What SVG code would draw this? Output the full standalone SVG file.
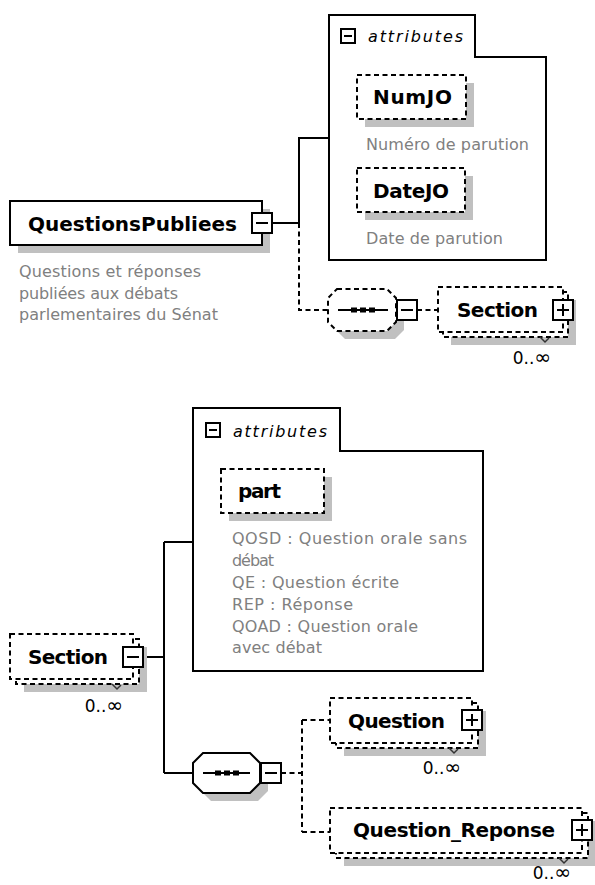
<svg xmlns="http://www.w3.org/2000/svg" width="595" height="885" viewBox="0 0 595 885">
<style>
.bg{fill:#fff}
.box{fill:#fff;stroke:#000;stroke-width:2}
.dbox{fill:#fff;stroke:#000;stroke-width:2;stroke-dasharray:5 3.5}
.sh{fill:#c0c0c0}
.ln{fill:none;stroke:#000;stroke-width:2}
.dln{fill:none;stroke:#000;stroke-width:2;stroke-dasharray:5 3.5}
.ic{fill:#fff;stroke:#000;stroke-width:2}
.icl{stroke:#000;stroke-width:2}
.tick{fill:none;stroke:#333;stroke-width:1.5}
.dot{fill:#000}
.name{font-family:"DejaVu Sans",Verdana,sans-serif;font-weight:bold;font-size:20px;fill:#000}
.desc{font-family:"DejaVu Sans",Verdana,sans-serif;font-size:16px;fill:#808080}
.attr{font-family:"DejaVu Sans",Verdana,sans-serif;font-style:italic;font-size:16px;fill:#000}
.occ{font-family:"DejaVu Sans",Verdana,sans-serif;font-size:17px;fill:#000;text-anchor:end}
.inf{font-size:20px}
</style>
<rect class="bg" x="0" y="0" width="595" height="885"/>

<g id="connectors">
  <path class="ln" d="M272,223 H299 M299,223 V138 H329"/>
  <path class="dln" d="M299,223 V310 H328"/>
  <path class="dln" d="M417,310 H438"/>
  <path class="ln" d="M143,657 H164 M164,542 V773 M164,542 H193 M164,773 H193"/>
  <path class="dln" d="M281,773 H302 M302,720 V832 M302,720 H330 M302,832 H330"/>
</g>

<g id="QuestionsPubliees">
  <rect class="sh" x="18" y="209" width="252" height="44"/>
  <rect class="box" x="10" y="201" width="252" height="44"/>
  <text class="name" x="28" y="230.5" textLength="209">QuestionsPubliees</text>
  <rect class="ic" x="252" y="213" width="20" height="20"/>
  <line class="icl" x1="256" y1="223" x2="268" y2="223"/>
  <text class="desc" x="19" y="277" textLength="182">Questions et réponses</text>
  <text class="desc" x="19" y="298.5" textLength="159">publiées aux débats</text>
  <text class="desc" x="19" y="320" textLength="199">parlementaires du Sénat</text>
</g>

<g id="attributes1">
  <path class="box" d="M329,15 H475 V57 H546 V260 H329 Z"/>
  <rect class="ic" x="341" y="29" width="14" height="14"/>
  <line class="icl" x1="344" y1="36" x2="352" y2="36"/>
  <text class="attr" x="368" y="42" textLength="95">attributes</text>
</g>

<g id="NumJO">
  <rect class="sh" x="365" y="83" width="109" height="44"/>
  <rect class="dbox" x="357" y="75" width="109" height="44"/>
  <text class="name" x="373" y="104" textLength="79">NumJO</text>
  <text class="desc" x="366" y="150" textLength="163">Numéro de parution</text>
</g>

<g id="DateJO">
  <rect class="sh" x="365" y="176" width="108" height="44"/>
  <rect class="dbox" x="357" y="168" width="108" height="44"/>
  <text class="name" x="373" y="198" textLength="76">DateJO</text>
  <text class="desc" x="366" y="244" textLength="137">Date de parution</text>
</g>

<g id="sequence1">
  <polygon class="sh" points="345,297 395,297 404,306 404,330 395,339 345,339 336,330 336,306"/>
  <polygon class="dbox" points="337,289 387,289 396,298 396,322 387,331 337,331 328,322 328,298"/>
  <line class="icl" x1="338" y1="310" x2="388" y2="310"/>
  <rect class="dot" x="351" y="307.5" width="6" height="5"/>
  <rect class="dot" x="360" y="307.5" width="6" height="5"/>
  <rect class="dot" x="369" y="307.5" width="6" height="5"/>
  <rect class="ic" x="397" y="300" width="20" height="20"/>
  <line class="icl" x1="401" y1="310" x2="413" y2="310"/>
</g>

<g id="Section1">
  <rect class="sh" x="451" y="300" width="125" height="45"/>
  <rect class="dbox" x="443" y="292" width="125" height="45"/>
  <rect class="dbox" x="438" y="287" width="125" height="45"/>
  <polyline class="tick" points="540,337 545,342 549,338"/>
  <text class="name" x="457" y="317" textLength="81">Section</text>
  <rect class="ic" x="553" y="300" width="20" height="20"/>
  <line class="icl" x1="557" y1="310" x2="569" y2="310"/>
  <line class="icl" x1="563" y1="304" x2="563" y2="316"/>
  <text class="occ" x="551" y="364">0..<tspan class="inf">∞</tspan></text>
</g>

<g id="Section2">
  <rect class="sh" x="24" y="647" width="123" height="45"/>
  <rect class="dbox" x="16" y="639" width="123" height="45"/>
  <rect class="dbox" x="10" y="634" width="123" height="45"/>
  <polyline class="tick" points="112,684 117,689 121,685"/>
  <text class="name" x="28" y="664" textLength="80">Section</text>
  <rect class="ic" x="123" y="647" width="20" height="20"/>
  <line class="icl" x1="127" y1="657" x2="139" y2="657"/>
  <text class="occ" x="123" y="712">0..<tspan class="inf">∞</tspan></text>
</g>

<g id="attributes2">
  <path class="box" d="M193,408 H340 V451 H483 V671 H193 Z"/>
  <rect class="ic" x="206" y="423" width="14" height="14"/>
  <line class="icl" x1="209" y1="430" x2="217" y2="430"/>
  <text class="attr" x="233" y="437" textLength="94">attributes</text>
</g>

<g id="part">
  <rect class="sh" x="229" y="477" width="103" height="44"/>
  <rect class="dbox" x="221" y="469" width="103" height="44"/>
  <text class="name" x="238" y="498" textLength="43">part</text>
  <text class="desc" x="232" y="544" textLength="235">QOSD : Question orale sans</text>
  <text class="desc" x="232" y="566" textLength="42">débat</text>
  <text class="desc" x="232" y="588" textLength="167">QE : Question écrite</text>
  <text class="desc" x="232" y="610" textLength="121">REP : Réponse</text>
  <text class="desc" x="232" y="632" textLength="186">QOAD : Question orale</text>
  <text class="desc" x="232" y="653" textLength="90">avec débat</text>
</g>

<g id="sequence2">
  <polygon class="sh" points="211,761 258,761 268,771 268,791 258,801 211,801 201,791 201,771"/>
  <polygon class="box" points="203,753 250,753 260,763 260,783 250,793 203,793 193,783 193,763"/>
  <line class="icl" x1="203" y1="773" x2="250" y2="773"/>
  <rect class="dot" x="215" y="770.5" width="6" height="5"/>
  <rect class="dot" x="224" y="770.5" width="6" height="5"/>
  <rect class="dot" x="233" y="770.5" width="6" height="5"/>
  <rect class="ic" x="261" y="763" width="20" height="20"/>
  <line class="icl" x1="265" y1="773" x2="277" y2="773"/>
</g>

<g id="Question">
  <rect class="sh" x="344" y="711" width="142" height="45"/>
  <rect class="dbox" x="336" y="703" width="142" height="45"/>
  <rect class="dbox" x="330" y="698" width="142" height="45"/>
  <polyline class="tick" points="449,748 454,753 458,749"/>
  <text class="name" x="348" y="728" textLength="97">Question</text>
  <rect class="ic" x="462" y="710" width="20" height="20"/>
  <line class="icl" x1="466" y1="720" x2="478" y2="720"/>
  <line class="icl" x1="472" y1="714" x2="472" y2="726"/>
  <text class="occ" x="461" y="774">0..<tspan class="inf">∞</tspan></text>
</g>

<g id="Question_Reponse">
  <rect class="sh" x="344" y="821" width="252" height="45"/>
  <rect class="dbox" x="336" y="813" width="252" height="45"/>
  <rect class="dbox" x="330" y="808" width="252" height="45"/>
  <polyline class="tick" points="559,858 564,863 568,859"/>
  <text class="name" x="353" y="837" textLength="202">Question_Reponse</text>
  <rect class="ic" x="572" y="820" width="20" height="20"/>
  <line class="icl" x1="576" y1="830" x2="588" y2="830"/>
  <line class="icl" x1="582" y1="824" x2="582" y2="836"/>
  <text class="occ" x="571" y="879">0..<tspan class="inf">∞</tspan></text>
</g>
</svg>
